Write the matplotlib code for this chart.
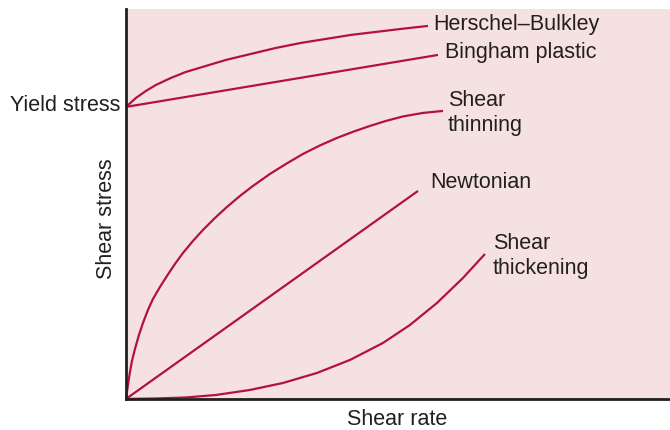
import matplotlib.pyplot as plt

plt.rcParams['font.family'] = ['Liberation Sans', 'DejaVu Sans']

# rheology curves, shear rate vs shear stress (arbitrary units)
newton_x = [0, 292]
newton_y = [0, 208]

bingham_x = [0, 312]
bingham_y = [292, 344]

hb_x = [0, 10, 20, 30, 45, 60, 80, 100, 125, 150, 175, 200, 225, 250, 275, 302]
hb_y = [292, 301, 308, 314, 321, 327, 333, 339, 345, 351, 356, 360, 364, 367, 370, 373]

thin_x = [0, 2, 4, 6, 9, 13, 17, 22, 27, 34, 41, 49, 57, 67, 77, 89, 101, 114,
          127, 144, 160, 177, 194, 211, 228, 244, 260, 277, 297, 317]
thin_y = [0, 14, 27, 38, 50, 64, 76, 89, 100, 112, 123, 135, 146, 158, 169, 181, 192, 203,
          213, 225, 235, 245, 253.5, 261, 267.5, 273, 278, 282.5, 286, 288]

thick_x = [0, 30, 60, 90, 124, 157, 191, 224, 257, 284, 311, 337, 359]
thick_y = [0, 0.5, 1.5, 4, 9, 16, 26, 39, 56, 74, 96, 121, 145]

line_color = '#B3123F'
bg_color = '#F5E1E0'

fig = plt.figure(figsize=(6.7, 4.31), dpi=100)
ax = fig.add_axes([0.188, 0.072, 0.812, 0.905])
ax.set_facecolor(bg_color)

for xs, ys in [(newton_x, newton_y), (bingham_x, bingham_y), (hb_x, hb_y),
               (thin_x, thin_y), (thick_x, thick_y)]:
    ax.plot(xs, ys, color=line_color, lw=1.6, solid_capstyle='butt',
            solid_joinstyle='round', clip_on=False)

ax.set_xlim(0, 544)
ax.set_ylim(0, 390)
ax.set_xticks([])
ax.set_yticks([])
for side in ['top', 'right']:
    ax.spines[side].set_visible(False)
for side in ['left', 'bottom']:
    ax.spines[side].set_linewidth(2.0)
    ax.spines[side].set_color('#231F20')

fs = 15.5
tc = '#231F20'
ax.text(307, 375, 'Herschel–Bulkley', fontsize=fs, color=tc, va='center', ha='left')
ax.text(319, 347, 'Bingham plastic', fontsize=fs, color=tc, va='center', ha='left')
ax.text(322, 287, 'Shear\nthinning', fontsize=fs, color=tc, va='center', ha='left',
        linespacing=1.3)
ax.text(304, 217, 'Newtonian', fontsize=fs, color=tc, va='center', ha='left')
ax.text(367, 144, 'Shear\nthickening', fontsize=fs, color=tc, va='center', ha='left',
        linespacing=1.3)
ax.text(-6, 294, 'Yield stress', fontsize=fs, color=tc, va='center', ha='right')

ax.set_xlabel('Shear rate', fontsize=fs, color=tc, va='center')
ax.set_ylabel('Shear stress', fontsize=fs, color=tc, va='center')
ax.xaxis.set_label_coords(0.498, -0.051)
ax.yaxis.set_label_coords(-0.035, 0.465)

fig.savefig('out.png', dpi=100)
